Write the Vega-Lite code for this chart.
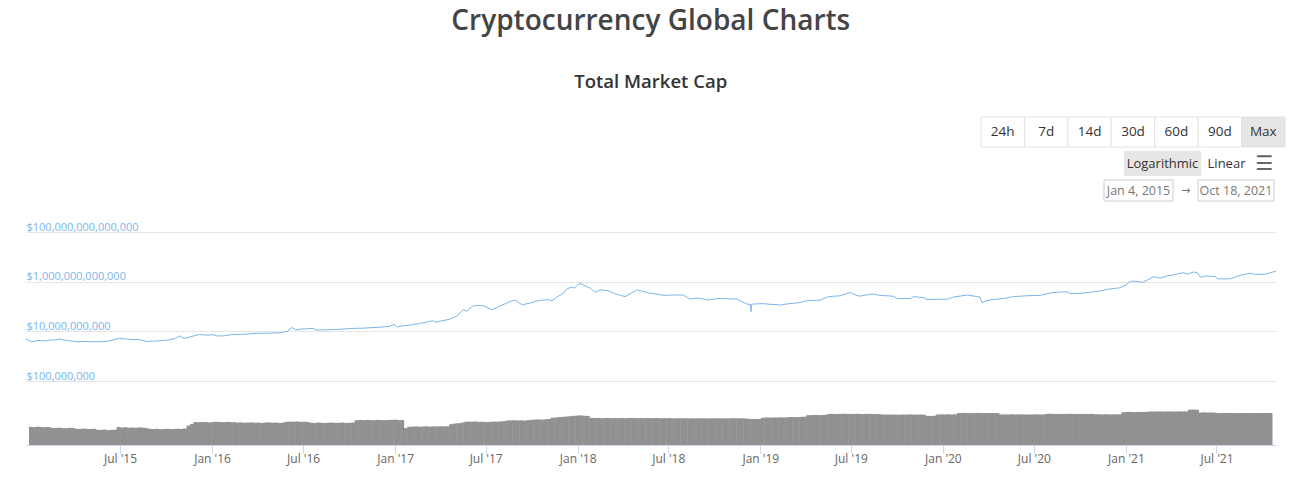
{
"$schema": "https://vega.github.io/schema/vega-lite/v6.json",
"padding": {"left": 26, "top": 8, "right": 0, "bottom": 12},
"background": "#ffffff",
"config": {"view": {"stroke": null}, "font": "Open Sans"},
"title": {"text": "Cryptocurrency Global Charts", "subtitle": "Total Market Cap", "anchor": "middle", "dx": -5, "fontSize": 28, "fontWeight": 600, "color": "#444444", "font": "Open Sans", "subtitleFont": "Open Sans", "subtitleFontSize": 18.5, "subtitleFontWeight": 600, "subtitleColor": "#333333", "subtitlePadding": 37, "offset": 25},
"datasets": {
"mc": [
{"d":"2015-01-04","c":4.9e9},{"d":"2015-01-10","c":4.3e9},{"d":"2015-01-16","c":3.8e9},{"d":"2015-01-24","c":4.2e9},{"d":"2015-02-01","c":4.3e9},{"d":"2015-02-12","c":4.1e9},{"d":"2015-02-20","c":4.4e9},{"d":"2015-03-01","c":4.5e9},{"d":"2015-03-12","c":4.9e9},{"d":"2015-03-25","c":4.3e9},{"d":"2015-04-15","c":3.8e9},{"d":"2015-05-01","c":3.9e9},{"d":"2015-05-15","c":3.8e9},{"d":"2015-05-31","c":3.8e9},{"d":"2015-06-15","c":4.0e9},{"d":"2015-07-09","c":5.2e9},{"d":"2015-07-25","c":4.8e9},{"d":"2015-08-18","c":4.6e9},{"d":"2015-08-31","c":3.9e9},{"d":"2015-09-20","c":4.1e9},{"d":"2015-10-11","c":4.4e9},{"d":"2015-10-25","c":5.0e9},{"d":"2015-11-05","c":6.5e9},{"d":"2015-11-12","c":5.3e9},{"d":"2015-11-18","c":5.4e9},{"d":"2015-12-01","c":6.4e9},{"d":"2015-12-14","c":7.5e9},{"d":"2015-12-28","c":7.0e9},
{"d":"2016-01-10","c":7.3e9},{"d":"2016-01-18","c":6.5e9},{"d":"2016-02-01","c":6.6e9},{"d":"2016-02-18","c":7.5e9},{"d":"2016-03-10","c":7.6e9},{"d":"2016-03-29","c":8.2e9},{"d":"2016-04-20","c":8.4e9},{"d":"2016-05-22","c":8.7e9},{"d":"2016-06-05","c":1.0e10},{"d":"2016-06-15","c":1.43e10},{"d":"2016-06-22","c":1.15e10},{"d":"2016-07-01","c":1.23e10},{"d":"2016-07-26","c":1.3e10},{"d":"2016-08-03","c":1.12e10},{"d":"2016-08-20","c":1.15e10},{"d":"2016-09-15","c":1.2e10},{"d":"2016-10-08","c":1.3e10},{"d":"2016-11-05","c":1.35e10},{"d":"2016-12-12","c":1.5e10},{"d":"2016-12-25","c":1.6e10},
{"d":"2017-01-03","c":1.9e10},{"d":"2017-01-10","c":1.5e10},{"d":"2017-01-15","c":1.6e10},{"d":"2017-02-05","c":1.8e10},{"d":"2017-02-24","c":2.1e10},{"d":"2017-03-10","c":2.4e10},{"d":"2017-03-21","c":2.7e10},{"d":"2017-03-25","c":2.3e10},{"d":"2017-04-10","c":2.7e10},{"d":"2017-04-24","c":3.1e10},{"d":"2017-05-08","c":4.2e10},{"d":"2017-05-20","c":7.4e10},{"d":"2017-05-27","c":6.5e10},{"d":"2017-06-09","c":1.07e11},{"d":"2017-06-20","c":1.1e11},{"d":"2017-06-29","c":1.07e11},{"d":"2017-07-16","c":7.4e10},{"d":"2017-07-26","c":9.1e10},{"d":"2017-08-10","c":1.25e11},{"d":"2017-08-21","c":1.6e11},{"d":"2017-08-31","c":1.8e11},{"d":"2017-09-14","c":1.17e11},{"d":"2017-09-30","c":1.38e11},{"d":"2017-10-15","c":1.7e11},{"d":"2017-11-03","c":1.9e11},{"d":"2017-11-12","c":1.7e11},{"d":"2017-11-22","c":2.4e11},{"d":"2017-12-05","c":3.5e11},{"d":"2017-12-12","c":5.3e11},{"d":"2017-12-22","c":5.9e11},{"d":"2017-12-27","c":5.5e11},
{"d":"2018-01-01","c":7.1e11},{"d":"2018-01-07","c":8.5e11},{"d":"2018-01-17","c":6.8e11},{"d":"2018-01-27","c":5.5e11},{"d":"2018-02-06","c":3.7e11},{"d":"2018-02-16","c":4.7e11},{"d":"2018-03-04","c":4.3e11},{"d":"2018-03-18","c":3.2e11},{"d":"2018-04-06","c":2.5e11},{"d":"2018-04-20","c":3.6e11},{"d":"2018-04-30","c":4.6e11},{"d":"2018-05-15","c":3.9e11},{"d":"2018-05-26","c":3.4e11},{"d":"2018-06-10","c":3.1e11},{"d":"2018-06-21","c":2.8e11},{"d":"2018-07-10","c":2.9e11},{"d":"2018-07-30","c":2.9e11},{"d":"2018-08-13","c":2.0e11},{"d":"2018-08-28","c":2.2e11},{"d":"2018-09-08","c":2.0e11},{"d":"2018-09-16","c":1.8e11},{"d":"2018-10-06","c":2.1e11},{"d":"2018-10-25","c":2.05e11},{"d":"2018-11-14","c":2.0e11},{"d":"2018-11-20","c":1.7e11},{"d":"2018-12-04","c":1.26e11},{"d":"2018-12-11","c":1.2e11},{"d":"2018-12-12","c":6.2e10},{"d":"2018-12-13","c":1.2e11},{"d":"2018-12-16","c":1.26e11},
{"d":"2019-01-05","c":1.3e11},{"d":"2019-01-20","c":1.22e11},{"d":"2019-02-08","c":1.15e11},{"d":"2019-02-25","c":1.3e11},{"d":"2019-03-15","c":1.4e11},{"d":"2019-04-02","c":1.7e11},{"d":"2019-04-28","c":1.8e11},{"d":"2019-05-14","c":2.5e11},{"d":"2019-05-25","c":2.6e11},{"d":"2019-06-07","c":2.7e11},{"d":"2019-06-27","c":3.7e11},{"d":"2019-07-03","c":3.1e11},{"d":"2019-07-16","c":2.6e11},{"d":"2019-07-28","c":2.9e11},{"d":"2019-08-11","c":3.2e11},{"d":"2019-08-25","c":2.8e11},{"d":"2019-09-20","c":2.6e11},{"d":"2019-09-28","c":2.1e11},{"d":"2019-10-24","c":2.1e11},{"d":"2019-10-30","c":2.5e11},{"d":"2019-11-18","c":2.3e11},{"d":"2019-11-26","c":1.9e11},{"d":"2019-12-15","c":1.95e11},
{"d":"2020-01-05","c":1.95e11},{"d":"2020-01-17","c":2.4e11},{"d":"2020-02-14","c":2.9e11},{"d":"2020-03-04","c":2.5e11},{"d":"2020-03-10","c":2.4e11},{"d":"2020-03-14","c":1.44e11},{"d":"2020-03-22","c":1.7e11},{"d":"2020-04-05","c":1.9e11},{"d":"2020-04-25","c":2.1e11},{"d":"2020-05-15","c":2.5e11},{"d":"2020-06-10","c":2.7e11},{"d":"2020-07-07","c":2.8e11},{"d":"2020-07-27","c":3.5e11},{"d":"2020-08-15","c":3.8e11},{"d":"2020-08-30","c":3.9e11},{"d":"2020-09-05","c":3.3e11},{"d":"2020-09-25","c":3.4e11},{"d":"2020-10-21","c":3.9e11},{"d":"2020-11-05","c":4.3e11},{"d":"2020-11-17","c":4.9e11},{"d":"2020-12-01","c":5.3e11},{"d":"2020-12-13","c":5.7e11},{"d":"2020-12-25","c":7.5e11},
{"d":"2021-01-02","c":1.02e12},{"d":"2021-01-10","c":1.05e12},{"d":"2021-01-26","c":9.4e11},{"d":"2021-02-08","c":1.25e12},{"d":"2021-02-17","c":1.6e12},{"d":"2021-03-03","c":1.38e12},{"d":"2021-03-15","c":1.7e12},{"d":"2021-03-28","c":1.85e12},{"d":"2021-04-17","c":2.3e12},{"d":"2021-04-25","c":2.0e12},{"d":"2021-05-07","c":2.45e12},{"d":"2021-05-15","c":2.3e12},{"d":"2021-05-21","c":1.5e12},{"d":"2021-05-31","c":1.7e12},{"d":"2021-06-20","c":1.6e12},{"d":"2021-06-24","c":1.3e12},{"d":"2021-07-19","c":1.3e12},{"d":"2021-08-08","c":1.8e12},{"d":"2021-08-28","c":2.2e12},{"d":"2021-09-07","c":1.95e12},{"d":"2021-09-27","c":2.0e12},{"d":"2021-10-13","c":2.5e12},{"d":"2021-10-18","c":2.6e12}
],
"vol": [
{"d":"2015-01-04","v":2.0e8},{"d":"2015-01-11","v":1.8e8},{"d":"2015-01-18","v":2.1e8},{"d":"2015-01-25","v":1.9e8},{"d":"2015-02-01","v":1.7e8},{"d":"2015-02-08","v":1.9e8},{"d":"2015-02-15","v":1.3e8},{"d":"2015-02-22","v":1.2e8},{"d":"2015-03-01","v":1.4e8},{"d":"2015-03-08","v":1.2e8},{"d":"2015-03-15","v":1.1e8},{"d":"2015-03-22","v":1.3e8},{"d":"2015-03-29","v":1.2e8},{"d":"2015-04-05","v":9e7},{"d":"2015-04-12","v":8e7},{"d":"2015-04-19","v":9.5e7},{"d":"2015-04-26","v":8.5e7},{"d":"2015-05-03","v":8e7},{"d":"2015-05-10","v":9e7},{"d":"2015-05-17","v":6e7},{"d":"2015-05-24","v":5.5e7},{"d":"2015-05-31","v":6.5e7},{"d":"2015-06-07","v":5e7},{"d":"2015-06-14","v":5.5e7},{"d":"2015-06-21","v":6e7},{"d":"2015-06-28","v":1.8e8},{"d":"2015-07-05","v":1.5e8},{"d":"2015-07-12","v":1.7e8},{"d":"2015-07-19","v":1.4e8},{"d":"2015-07-26","v":1.5e8},{"d":"2015-08-02","v":1.3e8},{"d":"2015-08-09","v":1.6e8},{"d":"2015-08-16","v":1.4e8},{"d":"2015-08-23","v":1.2e8},{"d":"2015-08-30","v":8.5e7},{"d":"2015-09-06","v":8e7},{"d":"2015-09-13","v":9e7},{"d":"2015-09-20","v":7.5e7},{"d":"2015-09-27","v":8e7},{"d":"2015-10-04","v":9e7},{"d":"2015-10-11","v":8e7},{"d":"2015-10-18","v":8.5e7},{"d":"2015-10-25","v":9e7},{"d":"2015-11-01","v":8e7},{"d":"2015-11-08","v":1.0e8},{"d":"2015-11-15","v":3.5e8},{"d":"2015-11-22","v":7e8},{"d":"2015-11-29","v":1.5e9},{"d":"2015-12-06","v":1.4e9},{"d":"2015-12-13","v":1.6e9},{"d":"2015-12-20","v":1.5e9},{"d":"2015-12-27","v":1.3e9},
{"d":"2016-01-03","v":1.5e9},{"d":"2016-01-10","v":1.7e9},{"d":"2016-01-17","v":1.5e9},{"d":"2016-01-24","v":1.4e9},{"d":"2016-01-31","v":1.6e9},{"d":"2016-02-07","v":1.5e9},{"d":"2016-02-14","v":1.4e9},{"d":"2016-02-21","v":1.2e9},{"d":"2016-02-28","v":1.3e9},{"d":"2016-03-06","v":1.1e9},{"d":"2016-03-13","v":1.2e9},{"d":"2016-03-20","v":1.3e9},{"d":"2016-03-27","v":1.1e9},{"d":"2016-04-03","v":1.2e9},{"d":"2016-04-10","v":1.0e9},{"d":"2016-04-17","v":1.2e9},{"d":"2016-04-24","v":1.3e9},{"d":"2016-05-01","v":1.1e9},{"d":"2016-05-08","v":1.2e9},{"d":"2016-05-15","v":1.0e9},{"d":"2016-05-22","v":1.2e9},{"d":"2016-05-29","v":1.6e9},{"d":"2016-06-05","v":1.8e9},{"d":"2016-06-12","v":1.7e9},{"d":"2016-06-19","v":1.9e9},{"d":"2016-06-26","v":1.6e9},{"d":"2016-07-03","v":1.7e9},{"d":"2016-07-10","v":1.5e9},{"d":"2016-07-17","v":1.1e9},{"d":"2016-07-24","v":1.0e9},{"d":"2016-07-31","v":1.2e9},{"d":"2016-08-07","v":1.1e9},{"d":"2016-08-14","v":1.0e9},{"d":"2016-08-21","v":1.1e9},{"d":"2016-08-28","v":1.2e9},{"d":"2016-09-04","v":1.0e9},{"d":"2016-09-11","v":1.1e9},{"d":"2016-09-18","v":1.2e9},{"d":"2016-09-25","v":1.0e9},{"d":"2016-10-02","v":1.1e9},{"d":"2016-10-09","v":1.2e9},{"d":"2016-10-16","v":3.2e9},{"d":"2016-10-23","v":3.5e9},{"d":"2016-10-30","v":3.3e9},{"d":"2016-11-06","v":3.6e9},{"d":"2016-11-13","v":3.4e9},{"d":"2016-11-20","v":3.2e9},{"d":"2016-11-27","v":3.7e9},{"d":"2016-12-04","v":3.5e9},{"d":"2016-12-11","v":3.3e9},{"d":"2016-12-18","v":3.6e9},{"d":"2016-12-25","v":3.8e9},
{"d":"2017-01-01","v":4.0e9},{"d":"2017-01-08","v":3.6e9},{"d":"2017-01-15","v":3.4e9},{"d":"2017-01-22","v":1.2e8},{"d":"2017-01-29","v":2.0e8},{"d":"2017-02-05","v":2.2e8},{"d":"2017-02-12","v":2.4e8},{"d":"2017-02-19","v":2.1e8},{"d":"2017-02-26","v":2.3e8},{"d":"2017-03-05","v":2.5e8},{"d":"2017-03-12","v":2.2e8},{"d":"2017-03-19","v":2.4e8},{"d":"2017-03-26","v":2.3e8},{"d":"2017-04-02","v":2.6e8},{"d":"2017-04-09","v":2.4e8},{"d":"2017-04-16","v":2.5e8},{"d":"2017-04-23","v":6e8},{"d":"2017-04-30","v":8e8},{"d":"2017-05-07","v":9e8},{"d":"2017-05-14","v":1.1e9},{"d":"2017-05-21","v":1.6e9},{"d":"2017-05-28","v":1.8e9},{"d":"2017-06-04","v":1.7e9},{"d":"2017-06-11","v":1.9e9},{"d":"2017-06-18","v":1.6e9},{"d":"2017-06-25","v":1.7e9},{"d":"2017-07-02","v":1.5e9},{"d":"2017-07-09","v":1.6e9},{"d":"2017-07-16","v":1.8e9},{"d":"2017-07-23","v":1.7e9},{"d":"2017-07-30","v":1.9e9},{"d":"2017-08-06","v":2.1e9},{"d":"2017-08-13","v":2.8e9},{"d":"2017-08-20","v":3.0e9},{"d":"2017-08-27","v":3.2e9},{"d":"2017-09-03","v":2.9e9},{"d":"2017-09-10","v":3.1e9},{"d":"2017-09-17","v":2.7e9},{"d":"2017-09-24","v":3.3e9},{"d":"2017-10-01","v":3.8e9},{"d":"2017-10-08","v":4.2e9},{"d":"2017-10-15","v":4.5e9},{"d":"2017-10-22","v":4.0e9},{"d":"2017-10-29","v":4.8e9},{"d":"2017-11-05","v":5.5e9},{"d":"2017-11-12","v":9e9},{"d":"2017-11-19","v":1.0e10},{"d":"2017-11-26","v":1.2e10},{"d":"2017-12-03","v":1.3e10},{"d":"2017-12-10","v":1.5e10},{"d":"2017-12-17","v":1.7e10},{"d":"2017-12-24","v":2.0e10},{"d":"2017-12-31","v":2.2e10},
{"d":"2018-01-07","v":2.4e10},{"d":"2018-01-14","v":2.1e10},{"d":"2018-01-21","v":1.9e10},{"d":"2018-01-28","v":8.5e9},{"d":"2018-02-04","v":8e9},{"d":"2018-02-11","v":8.5e9},{"d":"2018-02-18","v":7.5e9},{"d":"2018-02-25","v":8e9},{"d":"2018-03-04","v":8.2e9},{"d":"2018-03-11","v":7.8e9},{"d":"2018-03-18","v":8e9},{"d":"2018-03-25","v":7.6e9},{"d":"2018-04-01","v":8e9},{"d":"2018-04-08","v":7.5e9},{"d":"2018-04-15","v":8.3e9},{"d":"2018-04-22","v":8e9},{"d":"2018-04-29","v":7.8e9},{"d":"2018-05-06","v":8.2e9},{"d":"2018-05-13","v":7.7e9},{"d":"2018-05-20","v":8e9},{"d":"2018-05-27","v":7.5e9},{"d":"2018-06-03","v":7.8e9},{"d":"2018-06-10","v":8e9},{"d":"2018-06-17","v":7.4e9},{"d":"2018-06-24","v":7.6e9},{"d":"2018-07-01","v":7.8e9},{"d":"2018-07-08","v":7.2e9},{"d":"2018-07-15","v":7.0e9},{"d":"2018-07-22","v":7.4e9},{"d":"2018-07-29","v":7.1e9},{"d":"2018-08-05","v":7.3e9},{"d":"2018-08-12","v":6.9e9},{"d":"2018-08-19","v":7.2e9},{"d":"2018-08-26","v":7.0e9},{"d":"2018-09-02","v":7.3e9},{"d":"2018-09-09","v":7.1e9},{"d":"2018-09-16","v":6.8e9},{"d":"2018-09-23","v":7.2e9},{"d":"2018-09-30","v":7.0e9},{"d":"2018-10-07","v":7.4e9},{"d":"2018-10-14","v":6.9e9},{"d":"2018-10-21","v":7.1e9},{"d":"2018-10-28","v":7.0e9},{"d":"2018-11-04","v":7.3e9},{"d":"2018-11-11","v":7.2e9},{"d":"2018-11-18","v":7.0e9},{"d":"2018-11-25","v":7.3e9},{"d":"2018-12-02","v":6.9e9},{"d":"2018-12-09","v":5.5e9},{"d":"2018-12-16","v":5.2e9},{"d":"2018-12-23","v":5.6e9},{"d":"2018-12-30","v":5.3e9},
{"d":"2019-01-06","v":9e9},{"d":"2019-01-13","v":1.0e10},{"d":"2019-01-20","v":9.5e9},{"d":"2019-01-27","v":1.0e10},{"d":"2019-02-03","v":9.8e9},{"d":"2019-02-10","v":1.05e10},{"d":"2019-02-17","v":1.0e10},{"d":"2019-02-24","v":1.1e10},{"d":"2019-03-03","v":1.2e10},{"d":"2019-03-10","v":1.15e10},{"d":"2019-03-17","v":1.2e10},{"d":"2019-03-24","v":1.3e10},{"d":"2019-03-31","v":1.4e10},{"d":"2019-04-07","v":2.6e10},{"d":"2019-04-14","v":2.8e10},{"d":"2019-04-21","v":2.9e10},{"d":"2019-04-28","v":2.7e10},{"d":"2019-05-05","v":2.9e10},{"d":"2019-05-12","v":3.1e10},{"d":"2019-05-19","v":4.4e10},{"d":"2019-05-26","v":4.6e10},{"d":"2019-06-02","v":4.3e10},{"d":"2019-06-09","v":4.5e10},{"d":"2019-06-16","v":4.8e10},{"d":"2019-06-23","v":4.6e10},{"d":"2019-06-30","v":4.4e10},{"d":"2019-07-07","v":4.5e10},{"d":"2019-07-14","v":4.7e10},{"d":"2019-07-21","v":4.3e10},{"d":"2019-07-28","v":4.4e10},{"d":"2019-08-04","v":4.6e10},{"d":"2019-08-11","v":4.5e10},{"d":"2019-08-18","v":4.3e10},{"d":"2019-08-25","v":4.4e10},{"d":"2019-09-01","v":3.6e10},{"d":"2019-09-08","v":3.4e10},{"d":"2019-09-15","v":3.5e10},{"d":"2019-09-22","v":3.3e10},{"d":"2019-09-29","v":3.4e10},{"d":"2019-10-06","v":3.2e10},{"d":"2019-10-13","v":3.5e10},{"d":"2019-10-20","v":3.3e10},{"d":"2019-10-27","v":3.6e10},{"d":"2019-11-03","v":3.4e10},{"d":"2019-11-10","v":3.3e10},{"d":"2019-11-17","v":3.5e10},{"d":"2019-11-24","v":3.2e10},{"d":"2019-12-01","v":2.0e10},{"d":"2019-12-08","v":1.9e10},{"d":"2019-12-15","v":2.1e10},{"d":"2019-12-22","v":3.5e10},{"d":"2019-12-29","v":3.7e10},
{"d":"2020-01-05","v":3.6e10},{"d":"2020-01-12","v":3.8e10},{"d":"2020-01-19","v":3.5e10},{"d":"2020-01-26","v":3.7e10},{"d":"2020-02-02","v":6.3e10},{"d":"2020-02-09","v":6.6e10},{"d":"2020-02-16","v":6.8e10},{"d":"2020-02-23","v":6.4e10},{"d":"2020-03-01","v":6.5e10},{"d":"2020-03-08","v":6.9e10},{"d":"2020-03-15","v":6.7e10},{"d":"2020-03-22","v":6.4e10},{"d":"2020-03-29","v":6.6e10},{"d":"2020-04-05","v":6.5e10},{"d":"2020-04-12","v":6.8e10},{"d":"2020-04-19","v":6.3e10},{"d":"2020-04-26","v":3.7e10},{"d":"2020-05-03","v":3.5e10},{"d":"2020-05-10","v":3.6e10},{"d":"2020-05-17","v":3.8e10},{"d":"2020-05-24","v":3.5e10},{"d":"2020-05-31","v":3.6e10},{"d":"2020-06-07","v":3.7e10},{"d":"2020-06-14","v":3.4e10},{"d":"2020-06-21","v":3.6e10},{"d":"2020-06-28","v":3.5e10},{"d":"2020-07-05","v":3.7e10},{"d":"2020-07-12","v":3.6e10},{"d":"2020-07-19","v":3.5e10},{"d":"2020-07-26","v":4.4e10},{"d":"2020-08-02","v":4.6e10},{"d":"2020-08-09","v":4.5e10},{"d":"2020-08-16","v":4.3e10},{"d":"2020-08-23","v":4.6e10},{"d":"2020-08-30","v":4.4e10},{"d":"2020-09-06","v":4.5e10},{"d":"2020-09-13","v":4.7e10},{"d":"2020-09-20","v":4.4e10},{"d":"2020-09-27","v":4.5e10},{"d":"2020-10-04","v":4.3e10},{"d":"2020-10-11","v":4.6e10},{"d":"2020-10-18","v":4.4e10},{"d":"2020-10-25","v":4.5e10},{"d":"2020-11-01","v":4.0e10},{"d":"2020-11-08","v":3.8e10},{"d":"2020-11-15","v":3.7e10},{"d":"2020-11-22","v":3.9e10},{"d":"2020-11-29","v":3.6e10},{"d":"2020-12-06","v":3.8e10},{"d":"2020-12-13","v":3.7e10},{"d":"2020-12-20","v":3.9e10},{"d":"2020-12-27","v":9e10},
{"d":"2021-01-03","v":1.0e11},{"d":"2021-01-10","v":1.05e11},{"d":"2021-01-17","v":9.5e10},{"d":"2021-01-24","v":1.0e11},{"d":"2021-01-31","v":1.05e11},{"d":"2021-02-07","v":1.0e11},{"d":"2021-02-14","v":1.1e11},{"d":"2021-02-21","v":1.25e11},{"d":"2021-02-28","v":1.2e11},{"d":"2021-03-07","v":1.3e11},{"d":"2021-03-14","v":1.25e11},{"d":"2021-03-21","v":1.2e11},{"d":"2021-03-28","v":1.3e11},{"d":"2021-04-04","v":1.25e11},{"d":"2021-04-11","v":1.2e11},{"d":"2021-04-18","v":1.3e11},{"d":"2021-04-25","v":1.25e11},{"d":"2021-05-02","v":1.3e11},{"d":"2021-05-09","v":2.6e11},{"d":"2021-05-16","v":2.8e11},{"d":"2021-05-23","v":2.5e11},{"d":"2021-05-30","v":8e10},{"d":"2021-06-06","v":8.5e10},{"d":"2021-06-13","v":7.8e10},{"d":"2021-06-20","v":8.2e10},{"d":"2021-06-27","v":7.6e10},{"d":"2021-07-04","v":6.5e10},{"d":"2021-07-11","v":6.4e10},{"d":"2021-07-18","v":6.8e10},{"d":"2021-07-25","v":6.5e10},{"d":"2021-08-01","v":6.6e10},{"d":"2021-08-08","v":6.3e10},{"d":"2021-08-15","v":6.7e10},{"d":"2021-08-22","v":6.4e10},{"d":"2021-08-29","v":6.6e10},{"d":"2021-09-05","v":6.5e10},{"d":"2021-09-12","v":6.3e10},{"d":"2021-09-19","v":6.6e10},{"d":"2021-09-26","v":6.4e10},{"d":"2021-10-03","v":6.7e10},{"d":"2021-10-10","v":6.5e10},{"d":"2021-10-17","v":6.6e10}
]
},
"spacing": 19,
"vconcat": [
{
"spacing": 3,
"vconcat": [
{
"bounds": "flush",
"spacing": 0,
"hconcat": [
{"width": 955, "height": 30, "data": {"values": []}, "mark": {"type": "text"}, "encoding": {}},
{"width": 304, "height": 30,
 "data": {"values": [{"b":"24h"},{"b":"7d"},{"b":"14d"},{"b":"30d"},{"b":"60d"},{"b":"90d"},{"b":"Max"}]},
 "encoding": {"x": {"field": "b", "type": "nominal", "sort": null, "axis": null, "scale": {"paddingInner": 0, "paddingOuter": 0}}},
 "layer": [
  {"mark": {"type": "rect", "stroke": "#e3e3e3", "strokeWidth": 1}, "encoding": {"fill": {"condition": {"test": "datum.b === 'Max'", "value": "#e6e6e6"}, "value": "#ffffff"}}},
  {"mark": {"type": "text", "fontSize": 13.5, "color": "#333333", "font": "Open Sans"}, "encoding": {"text": {"field": "b"}}}
 ]}
]
},
{
"bounds": "flush",
"spacing": 0,
"hconcat": [
{"width": 1098, "height": 25, "data": {"values": []}, "mark": {"type": "text"}, "encoding": {}},
{"width": 77, "height": 25, "data": {"values": [{"t": "Logarithmic"}]},
 "encoding": {"x": {"field": "t", "type": "nominal", "axis": null, "scale": {"paddingInner": 0, "paddingOuter": 0}}},
 "layer": [
  {"mark": {"type": "rect", "fill": "#e6e6e6"}},
  {"mark": {"type": "text", "fontSize": 13, "color": "#333333", "font": "Open Sans"}, "encoding": {"text": {"field": "t"}}}
 ]},
{"width": 51, "height": 25, "data": {"values": [{"t": "Linear"}]},
 "mark": {"type": "text", "fontSize": 13, "color": "#333333", "font": "Open Sans"},
 "encoding": {"x": {"field": "t", "type": "nominal", "axis": null, "scale": {"paddingInner": 0, "paddingOuter": 0}}, "text": {"field": "t"}}},
{"width": 25, "height": 25, "data": {"values": [{"t": "☰"}]},
 "mark": {"type": "text", "fontSize": 20, "fontWeight": "bold", "color": "#666666", "font": "DejaVu Sans"},
 "encoding": {"x": {"field": "t", "type": "nominal", "axis": null, "scale": {"paddingInner": 0, "paddingOuter": 0}}, "text": {"field": "t"}}}
]
},
{
"bounds": "flush",
"spacing": 0,
"hconcat": [
{"width": 1078, "height": 21, "data": {"values": []}, "mark": {"type": "text"}, "encoding": {}},
{"width": 69, "height": 21, "data": {"values": [{"t": "Jan 4, 2015"}]},
 "encoding": {"x": {"field": "t", "type": "nominal", "axis": null, "scale": {"paddingInner": 0, "paddingOuter": 0}}},
 "layer": [
  {"mark": {"type": "rect", "fill": "#ffffff", "stroke": "#cccccc", "strokeWidth": 1}},
  {"mark": {"type": "text", "fontSize": 12.5, "color": "#777777", "font": "Open Sans"}, "encoding": {"text": {"field": "t"}}}
 ]},
{"width": 25, "height": 21, "data": {"values": [{"t": "→"}]},
 "mark": {"type": "text", "fontSize": 11, "color": "#777777", "font": "DejaVu Sans"},
 "encoding": {"x": {"field": "t", "type": "nominal", "axis": null, "scale": {"paddingInner": 0, "paddingOuter": 0}}, "text": {"field": "t"}}},
{"width": 76, "height": 21, "data": {"values": [{"t": "Oct 18, 2021"}]},
 "encoding": {"x": {"field": "t", "type": "nominal", "axis": null, "scale": {"paddingInner": 0, "paddingOuter": 0}}},
 "layer": [
  {"mark": {"type": "rect", "fill": "#ffffff", "stroke": "#cccccc", "strokeWidth": 1}},
  {"mark": {"type": "text", "fontSize": 12.5, "color": "#777777", "font": "Open Sans"}, "encoding": {"text": {"field": "t"}}}
 ]}
]
}
]
},
{
"spacing": 20,
"vconcat": [
{"width": 1250, "height": 149, "data": {"name": "mc"},
 "mark": {"type": "line", "color": "#7cb5ec", "strokeWidth": 1, "clip": true},
 "encoding": {
  "x": {"field": "d", "type": "temporal", "axis": null, "scale": {"domain": [{"year": 2015, "month": 1, "date": 4}, {"year": 2021, "month": 10, "date": 18}]}},
  "y": {"field": "c", "type": "quantitative", "scale": {"type": "log", "domain": [1e8, 1e14], "nice": false},
   "axis": {"values": [1e8, 1e10, 1e12, 1e14], "format": "$,.0f", "title": null, "grid": true, "gridColor": "#e6e6e6", "gridWidth": 1, "domain": false, "ticks": false, "tickSize": 0, "labelAlign": "left", "labelBaseline": "alphabetic", "labelPadding": 0, "labelOffset": -2, "labelColor": "#7cb5ec", "labelFontSize": 11, "labelFont": "Open Sans"}}
 }},
{"width": 1250, "height": 44, "data": {"name": "vol"},
 "mark": {"type": "bar", "color": "#919191", "width": 4, "clip": true},
 "encoding": {
  "x": {"field": "d", "type": "temporal", "scale": {"domain": [{"year": 2015, "month": 1, "date": 4}, {"year": 2021, "month": 10, "date": 18}]},
   "axis": {"values": [{"year": 2015, "month": 7, "date": 1}, {"year": 2016, "month": 1, "date": 1}, {"year": 2016, "month": 7, "date": 1}, {"year": 2017, "month": 1, "date": 1}, {"year": 2017, "month": 7, "date": 1}, {"year": 2018, "month": 1, "date": 1}, {"year": 2018, "month": 7, "date": 1}, {"year": 2019, "month": 1, "date": 1}, {"year": 2019, "month": 7, "date": 1}, {"year": 2020, "month": 1, "date": 1}, {"year": 2020, "month": 7, "date": 1}, {"year": 2021, "month": 1, "date": 1}, {"year": 2021, "month": 7, "date": 1}],
    "format": "%b '%y", "title": null, "grid": false, "domainColor": "#ccd6eb", "tickColor": "#ccd6eb", "tickSize": 8, "labelColor": "#666666", "labelFontSize": 12, "labelFont": "Open Sans", "labelPadding": 0}},
  "y": {"field": "v", "type": "quantitative", "scale": {"type": "log", "domain": [1e5, 1e13], "nice": false}, "axis": null},
  "y2": {"datum": 1e5}
 }}
]
}
]
}
